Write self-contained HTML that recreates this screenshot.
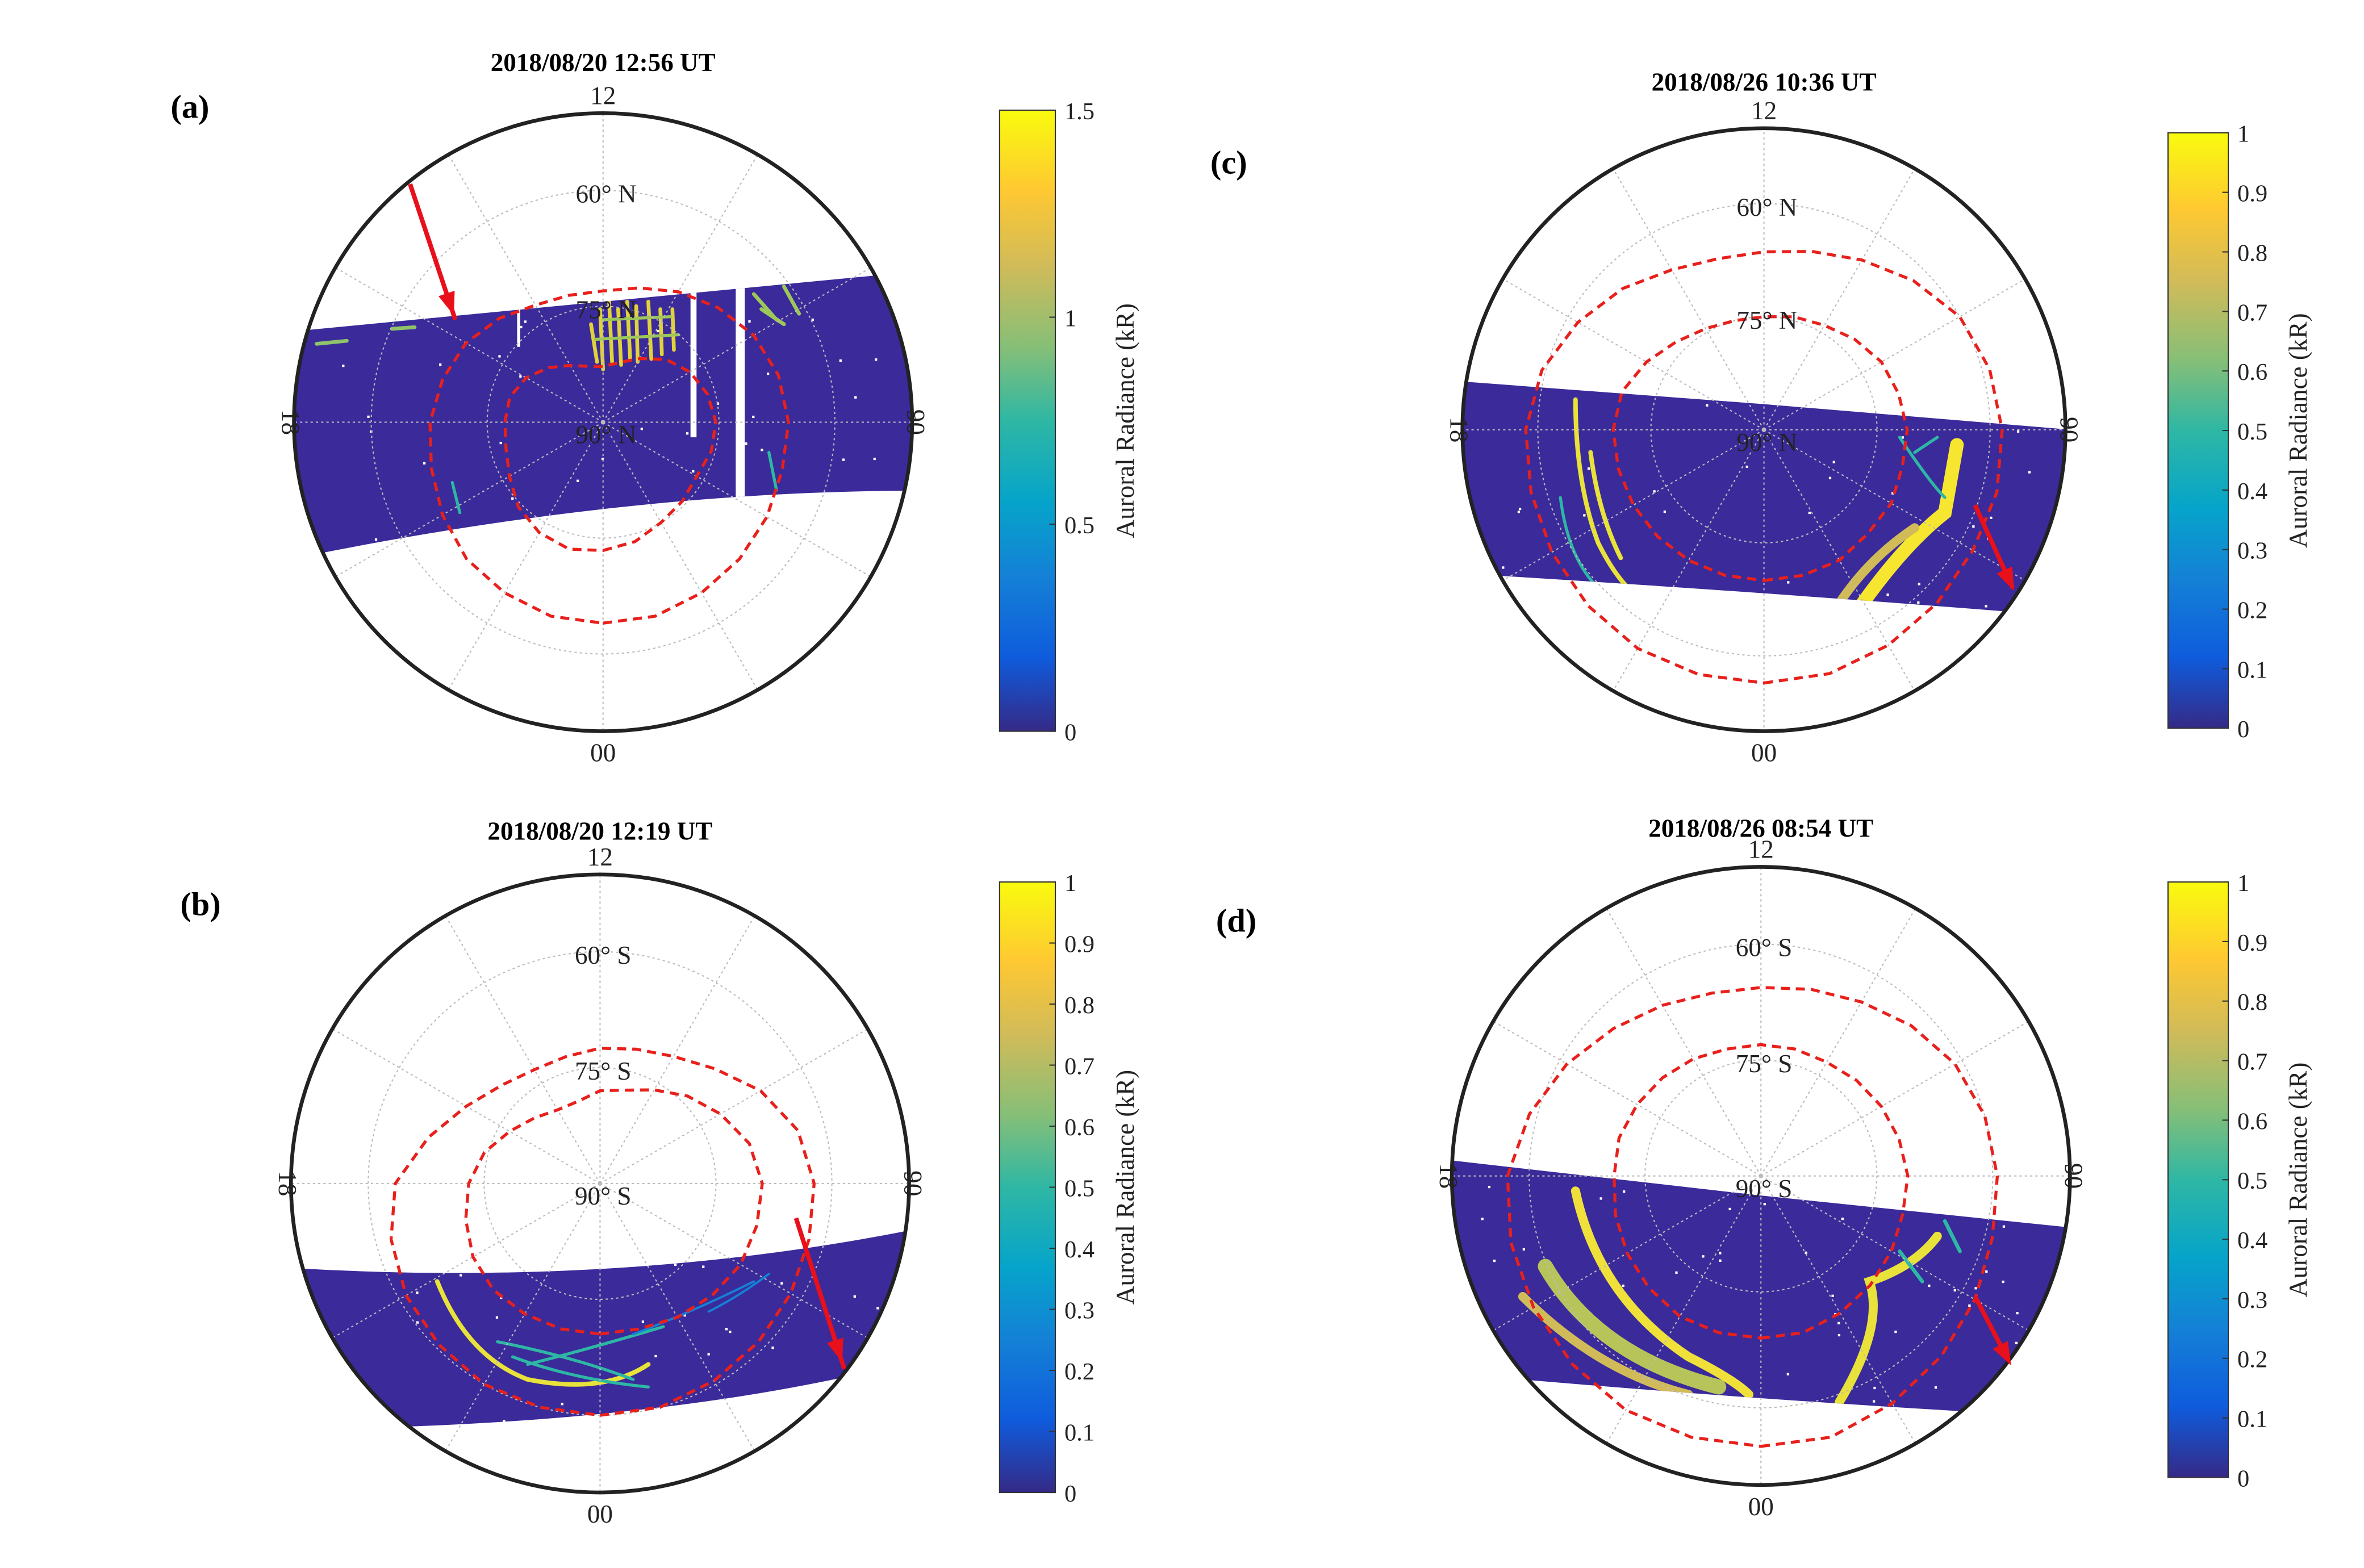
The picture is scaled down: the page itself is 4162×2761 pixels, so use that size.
<!DOCTYPE html>
<html><head><meta charset="utf-8">
<style>
html,body{margin:0;padding:0;background:#fff;}
svg{display:block;font-family:"Liberation Serif",serif;}
</style></head>
<body>
<svg id="fig" width="4162" height="2761" viewBox="0 0 1568 1040" xmlns="http://www.w3.org/2000/svg">
<defs>
<linearGradient id="parula" x1="0" y1="1" x2="0" y2="0">
<stop offset="0" stop-color="#352a87"/><stop offset="0.12" stop-color="#0f5cdd"/>
<stop offset="0.25" stop-color="#1481d6"/><stop offset="0.37" stop-color="#06a4ca"/>
<stop offset="0.5" stop-color="#2eb7a4"/><stop offset="0.62" stop-color="#87bf77"/>
<stop offset="0.75" stop-color="#d1bb59"/><stop offset="0.87" stop-color="#fec832"/>
<stop offset="1" stop-color="#f9fb0e"/>
</linearGradient>
</defs>
</svg>
<script>
// ---- data ----
const hours = [0,1,2,3,4,5,6,7,8,9,10,11,12,13,14,15,16,17,18,19,20,21,22,23];
const ovalInnerA = [16.6,16,15,14.5,14,14.5,14.6,14,13,11.5,9.5,8,7.2,7.5,8.5,10,11.5,12.5,12.7,13,14,15.5,16.5,17];
const ovalOuterA = [26,26,25.5,25,24.5,24,24,23.5,22.5,21,19.5,18,17,17,17.5,19,20.5,21.5,22.4,23,24,25,25.5,26];
const ovalInnerB = [19.5,19.5,20,20.5,21,21,21,20,18,16,14,12.5,12,11,11,12,13.5,15.5,17,18,19,19.5,19.5,19.5];
const ovalOuterB = [30,30,29.5,29,28.5,28,27.7,26.5,24,21,19,18,17.5,17,17,18,20,23,26.5,28,29,29.5,30,30];
const ovalInnerC = [20,20,20,19.5,19.5,19,19,18.5,18,17,16,15.5,15,15,15.5,16.5,18,19.5,20,20,20,20,20,20];
const ovalOuterC = [33.6,33.5,33,32.5,32,32,31.6,31,30,28,26,24.5,23.6,23.5,24.5,26.5,28.5,30.5,31.6,32,32.5,33,33.5,33.6];
const ovalInnerD = [21,21,20.5,20,19.5,19,19,18.5,18,17.5,17,17,17,17,17.5,18,18.5,19,19,19.5,20,20.5,21,21];
const ovalOuterD = [35,35,34,33,32,31,30.6,30,29,27.5,26,25,24.4,24.5,25.5,27,29,31,32.8,33.5,34,34.5,35,35];
const ticksA = [0,0.5,1,1.5];
const ticksB = [0,0.1,0.2,0.3,0.4,0.5,0.6,0.7,0.8,0.9,1];

const NS='http://www.w3.org/2000/svg';
const svg=document.getElementById('fig');
function mk(tag,attrs,parent){const e=document.createElementNS(NS,tag);for(const k in attrs)e.setAttribute(k,attrs[k]);(parent||svg).appendChild(e);return e;}
function txt(s,x,y,attrs,parent){const t=mk('text',Object.assign({x:x,y:y},attrs),parent);t.textContent=s;return t;}

const panels=[
 {id:'a',cx:400,cy:280,R:205,hemi:'N',title:'2018/08/20 12:56 UT',ty:47,lx:126,ly:78,inner:ovalInnerA,outer:ovalOuterA,
  band:'M150,224 Q400,200 650,176 L650,326 Q420,320 150,380 Z',
  cb:{x:663,y:73,w:37,h:412,max:1.5,ticks:ticksA},arrow:[272,122,302,212]},
 {id:'b',cx:398,cy:785,R:205,hemi:'S',title:'2018/08/20 12:19 UT',ty:557,lx:133,ly:607,inner:ovalInnerB,outer:ovalOuterB,
  band:'M150,838 Q420,860 650,806 L650,890 Q460,950 150,948 Z',
  cb:{x:663,y:585,w:37,h:405,max:1,ticks:ticksB},arrow:[528,808,560,908]},
 {id:'c',cx:1170,cy:285,R:200,hemi:'N',title:'2018/08/26 10:36 UT',ty:60,lx:815,ly:115,inner:ovalInnerC,outer:ovalOuterC,
  band:'M930,250 L1170,268 L1410,288 L1410,412 Q1170,392 930,378 Z',
  cb:{x:1438,y:88,w:40,h:395,max:1,ticks:ticksB},arrow:[1310,335,1335,390]},
 {id:'d',cx:1168,cy:780,R:205,hemi:'S',title:'2018/08/26 08:54 UT',ty:555,lx:820,ly:618,inner:ovalInnerD,outer:ovalOuterD,
  band:'M930,766 L1168,793 L1410,818 L1410,942 Q1168,930 930,908 Z',
  cb:{x:1438,y:585,w:40,h:395,max:1,ticks:ticksB},arrow:[1310,860,1332,902]}
];

function pt(p,colat,h){const r=colat/40*p.R;const th=h*Math.PI/12;return [p.cx+r*Math.sin(th),p.cy+r*Math.cos(th)];}
let seed=7;function rnd(){seed=(seed*16807)%2147483647;return seed/2147483647;}

panels.forEach(p=>{
 const g=mk('g',{});
 
 
 const cp=mk('clipPath',{id:'clip'+p.id},g);
 mk('circle',{cx:p.cx,cy:p.cy,r:p.R},cp);
 const bcp=mk('clipPath',{id:'bclip'+p.id},g);
 mk('path',{d:p.band},bcp);
 const band=mk('path',{d:p.band,fill:'#3a2a9a','clip-path':'url(#clip'+p.id+')'},g);
 
 
 const inner=mk('g',{'clip-path':'url(#bclip'+p.id+')'},g);
 const fg=mk('g',{'clip-path':'url(#clip'+p.id+')',fill:'none','stroke-linecap':'round'},inner);
 // speckles
 for(let i=0;i<90;i++){mk('rect',{x:p.cx-p.R+rnd()*2*p.R,y:p.cy-p.R+rnd()*2*p.R,width:1.6,height:1.6,fill:'#fff'},fg);}
 const feats={
  a:[['M392,215 L396,240 M398,205 L400,245 M404,200 L406,240 M410,205 L412,242 M416,200 L418,238 M422,203 L423,240 M430,200 L432,238 M438,205 L439,235 M446,205 L447,232','#e0d23a',2.5],['M395,225 L450,222 M400,212 L445,210','#9ec75a',2],['M500,195 L515,212 M520,190 L530,208 M505,205 L520,215','#9ec75a',2.5],['M210,228 L230,226 M260,218 L275,217','#8fc36a',2.5],['M300,320 L305,340 M510,300 L515,325','#2eb7a4',2]],
  b:[['M290,850 Q310,900 350,915 Q400,925 430,905','#e8e23a',3],['M330,890 Q380,900 420,915 M350,905 Q390,895 440,880 M340,900 Q380,915 430,920','#2eb7a4',2],['M420,885 Q460,870 500,850 M470,870 Q490,860 510,845','#1481d6',1.5]],
  c:[['M1045,265 Q1045,320 1060,360 Q1070,380 1080,390 M1055,300 Q1060,340 1075,370','#e8e23a',3],['M1035,330 Q1040,370 1060,390','#2eb7a4',2],['M1232,405 Q1262,362 1290,340 L1298,295','#f6e630',9],['M1220,400 Q1240,370 1270,350','#d1bb59',6],['M1260,290 Q1280,320 1290,330 M1270,300 L1285,290','#2eb7a4',2]],
  d:[['M1045,790 Q1060,860 1120,900 Q1150,915 1160,925','#f0e13a',6],['M1025,840 Q1060,900 1140,920','#b7c45a',10],['M1010,860 Q1060,910 1120,925','#d1bb59',6],['M1220,930 Q1250,880 1240,850 Q1270,840 1285,820','#e8e23a',6],['M1290,810 L1300,830 M1260,830 L1275,850','#2eb7a4',2.5]]
 }[p.id];
 feats.forEach(f=>mk('path',{d:f[0],stroke:f[1],'stroke-width':f[2]},fg));
 if(p.id==='a'){mk('rect',{x:458,y:170,width:4,height:120,fill:'#fff'},inner);mk('rect',{x:488,y:170,width:6,height:160,fill:'#fff'},inner);mk('rect',{x:343,y:190,width:2,height:40,fill:'#fff'},inner);}
 // grid rings
 [15,30].forEach(c=>mk('circle',{cx:p.cx,cy:p.cy,r:c/40*p.R,fill:'none',stroke:'#bbb','stroke-width':0.8,'stroke-dasharray':'1.5 2'},g));
 for(let h=0;h<24;h+=2){const e=pt(p,40,h);mk('line',{x1:p.cx,y1:p.cy,x2:e[0],y2:e[1],stroke:'#bbb','stroke-width':0.8,'stroke-dasharray':'1.5 2'},g);}
 // ovals
 [p.inner,p.outer].forEach((arr,i)=>{
  let d='';hours.forEach((h,k)=>{const q=pt(p,arr[k],h);d+=(k?'L':'M')+q[0].toFixed(1)+','+q[1].toFixed(1);});d+='Z';
  const o=mk('path',{d:d,fill:'none',stroke:'#e8201c','stroke-width':2,'stroke-dasharray':'6 4'},g);
  
  
 });
 const oc=mk('circle',{cx:p.cx,cy:p.cy,r:p.R,fill:'none',stroke:'#222','stroke-width':2.5},g);
 
 
 const ls={'font-size':17,fill:'#222','text-anchor':'middle'};
 txt('60° '+p.hemi,p.cx+2,p.cy-p.R*30/40+8,ls,g);
 txt('75° '+p.hemi,p.cx+2,p.cy-p.R*15/40+8,ls,g);
 txt('90° '+p.hemi,p.cx+2,p.cy+14,ls,g);
 txt('12',p.cx,p.cy-p.R-6,ls,g);
 txt('00',p.cx,p.cy+p.R+20,ls,g);
 txt('18',p.cx-p.R-8,p.cy,Object.assign({transform:'rotate(90 '+(p.cx-p.R-8)+' '+p.cy+')'},ls),g);
 txt('06',p.cx+p.R+8,p.cy,Object.assign({transform:'rotate(-90 '+(p.cx+p.R+8)+' '+p.cy+')'},ls),g);
 const t=txt(p.title,p.cx,p.ty,{'font-size':17,'font-weight':'bold','text-anchor':'middle',fill:'#000'},g);
 
 
 const l=txt('('+p.id+')',p.lx,p.ly,{'font-size':22,'font-weight':'bold','text-anchor':'middle',fill:'#000'},g);
 
 
 const a=p.arrow;const ang=Math.atan2(a[3]-a[1],a[2]-a[0]);
 const ar=mk('g',{},g);
 
 
 mk('line',{x1:a[0],y1:a[1],x2:a[2],y2:a[3],stroke:'#e8101a','stroke-width':3},ar);
 const hx=a[0]+(a[2]-a[0])*0.85,hy=a[1]+(a[3]-a[1])*0.85;
 const s=7;
 mk('polygon',{points:[hx+Math.cos(ang)*s*1.6,hy+Math.sin(ang)*s*1.6,hx+Math.cos(ang+2.2)*s,hy+Math.sin(ang+2.2)*s,hx+Math.cos(ang-2.2)*s,hy+Math.sin(ang-2.2)*s].join(' '),fill:'#e8101a'},ar);
 const c=p.cb;
 const cg=mk('g',{},g);
 
 
 mk('rect',{x:c.x,y:c.y,width:c.w,height:c.h,fill:'url(#parula)',stroke:'#333','stroke-width':0.8},cg);
 c.ticks.forEach(v=>{const y=c.y+c.h-v/c.max*c.h;
  mk('line',{x1:c.x+c.w-4,y1:y,x2:c.x+c.w,y2:y,stroke:'#333','stroke-width':0.8},cg);
  txt(String(v),c.x+c.w+6,y+6,{'font-size':16,fill:'#222'},cg);});
 const lx=c.x+c.w+52,ly=c.y+c.h/2;
 txt('Auroral Radiance (kR)',lx,ly,{'font-size':17,fill:'#222','text-anchor':'middle',transform:'rotate(-90 '+lx+' '+ly+')'},cg);
});
</script>
</body></html>
